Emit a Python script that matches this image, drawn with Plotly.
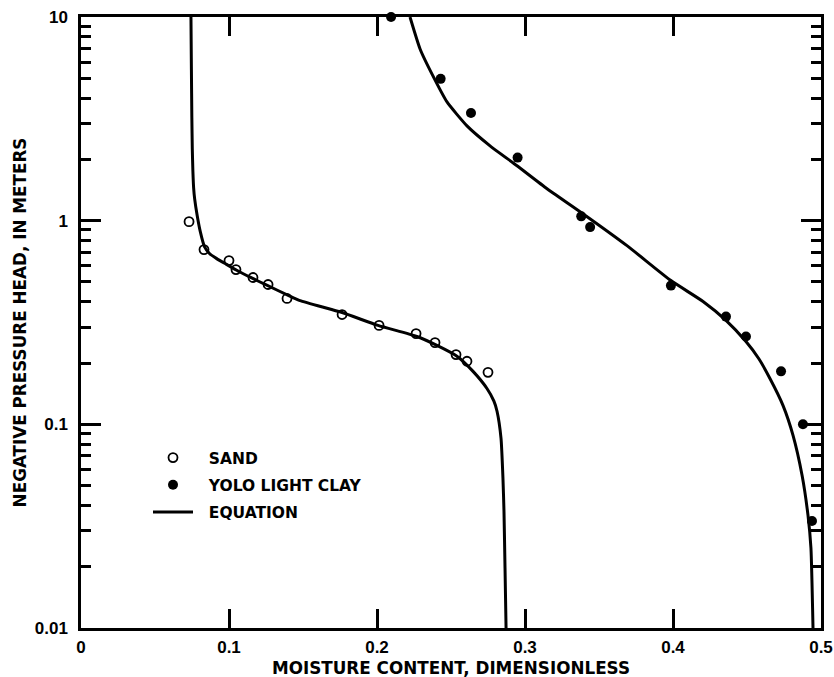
import plotly.graph_objects as go

# Measured data points
sand_theta = [0.073, 0.0831, 0.100, 0.1047, 0.1162, 0.1264, 0.1392, 0.1764, 0.2014, 0.2264, 0.2392, 0.2534, 0.2608, 0.275]
sand_h = [0.989, 0.721, 0.637, 0.575, 0.526, 0.486, 0.415, 0.346, 0.306, 0.279, 0.252, 0.220, 0.204, 0.180]

clay_theta = [0.2095, 0.243, 0.2635, 0.295, 0.338, 0.344, 0.3986, 0.4358, 0.4493, 0.473, 0.4878, 0.4939]
clay_h = [10.0, 4.97, 3.38, 2.04, 1.05, 0.93, 0.480, 0.338, 0.270, 0.182, 0.100, 0.0335]

# Equation curves
sand_curve_theta = [0.0743, 0.0746, 0.0749, 0.0752, 0.0756, 0.0761, 0.0768, 0.0785, 0.0806, 0.0835, 0.0868,
                    0.0917, 0.0980, 0.1052, 0.1150, 0.1255, 0.1400, 0.1480, 0.1764, 0.2007, 0.2270, 0.2405,
                    0.2540, 0.2649, 0.2743, 0.2790, 0.2811, 0.2838, 0.2851, 0.2858, 0.2865, 0.2872]
sand_curve_h = [10.0, 5.5, 3.2, 2.25, 1.75, 1.45, 1.28, 1.06, 0.883, 0.743, 0.690,
                0.651, 0.612, 0.571, 0.525, 0.482, 0.430, 0.405, 0.354, 0.306, 0.270, 0.244,
                0.216, 0.182, 0.150, 0.130, 0.116, 0.0853, 0.0544, 0.0375, 0.0197, 0.0100]

clay_curve_theta = [0.2223, 0.2291, 0.2378, 0.2473, 0.2608, 0.2764, 0.2946, 0.3149, 0.3372, 0.3689, 0.3986,
                    0.4203, 0.4358, 0.4493, 0.4580, 0.4655, 0.4743, 0.4811, 0.4872, 0.4912, 0.4932, 0.4946]
clay_curve_h = [10.0, 6.97, 5.14, 3.83, 2.92, 2.33, 1.86, 1.435, 1.107, 0.754, 0.508,
                0.401, 0.324, 0.255, 0.210, 0.168, 0.124, 0.0883, 0.0562, 0.0358, 0.0247, 0.0100]

x_ticks = [0, 0.1, 0.2, 0.3, 0.4, 0.5]
x_ticktext = ["0", "0.1", "0.2", "0.3", "0.4", "0.5"]
y_ticks = [0.01, 0.1, 1, 10]
y_ticktext = ["0.01", "0.1", "1", "10"]

TICKFONT = dict(family="Liberation Sans, Arial, sans-serif", size=17, color="black", weight="bold")
TITLEFONT = dict(family="DejaVu Sans, sans-serif", size=16.8, color="black", weight="bold")
LEGFONT = dict(family="DejaVu Sans, sans-serif", size=15.5, color="black", weight="bold")

fig = go.Figure()

fig.add_trace(go.Scatter(
    x=sand_curve_theta, y=sand_curve_h, mode="lines", name="\u00a0\u00a0EQUATION",
    line=dict(color="black", width=3, shape="spline", smoothing=0.5),
    legendgroup="eq", legendrank=3, showlegend=True))
fig.add_trace(go.Scatter(
    x=clay_curve_theta, y=clay_curve_h, mode="lines", name="\u00a0\u00a0EQUATION",
    line=dict(color="black", width=3, shape="spline", smoothing=0.5),
    legendgroup="eq", legendrank=3, showlegend=False))
fig.add_trace(go.Scatter(
    x=sand_theta, y=sand_h, mode="markers", name="\u00a0\u00a0SAND",
    marker=dict(symbol="circle-open", size=9, color="black", line=dict(width=1.8, color="black")),
    legendgroup="sand", legendrank=1, cliponaxis=False))
fig.add_trace(go.Scatter(
    x=clay_theta, y=clay_h, mode="markers", name="\u00a0\u00a0YOLO LIGHT CLAY",
    marker=dict(symbol="circle", size=10, color="black"),
    legendgroup="clay", legendrank=2, cliponaxis=False))

axis_common = dict(
    showline=True, linecolor="black", linewidth=2.5, mirror="ticks",
    ticks="inside", tickcolor="black", tickwidth=2.5, showgrid=False, zeroline=False,
    tickfont=TICKFONT, automargin=False,
)

fig.update_layout(
    width=834, height=677,
    margin=dict(l=81, r=13, t=17, b=49),
    paper_bgcolor="white", plot_bgcolor="white",
    showlegend=True,
    legend=dict(x=(148 - 81) / 740, y=(628 - 441) / 611, xanchor="left", yanchor="top",
                font=LEGFONT, bgcolor="rgba(0,0,0,0)", tracegroupgap=4, itemwidth=40),
    xaxis=dict(
        range=[0, 0.5], tickvals=x_ticks, ticktext=x_ticktext, ticklen=19,
        ticklabelstandoff=2,
        **axis_common),
    yaxis=dict(
        type="log", range=[-2, 1], tickvals=y_ticks, ticktext=y_ticktext, ticklen=20,
        ticklabelstandoff=7,
        minor=dict(ticks="inside", ticklen=10, tickwidth=2.5, tickcolor="black", dtick="D1", showgrid=False),
        title=dict(text="NEGATIVE PRESSURE HEAD, IN METERS", font=TITLEFONT, standoff=4),
        **axis_common),
    annotations=[dict(
        text="MOISTURE CONTENT, DIMENSIONLESS", xref="paper", yref="paper",
        x=0.5, y=0, xanchor="center", yanchor="middle", yshift=-40,
        showarrow=False, font=TITLEFONT)],
)

fig.write_html("out.html")
